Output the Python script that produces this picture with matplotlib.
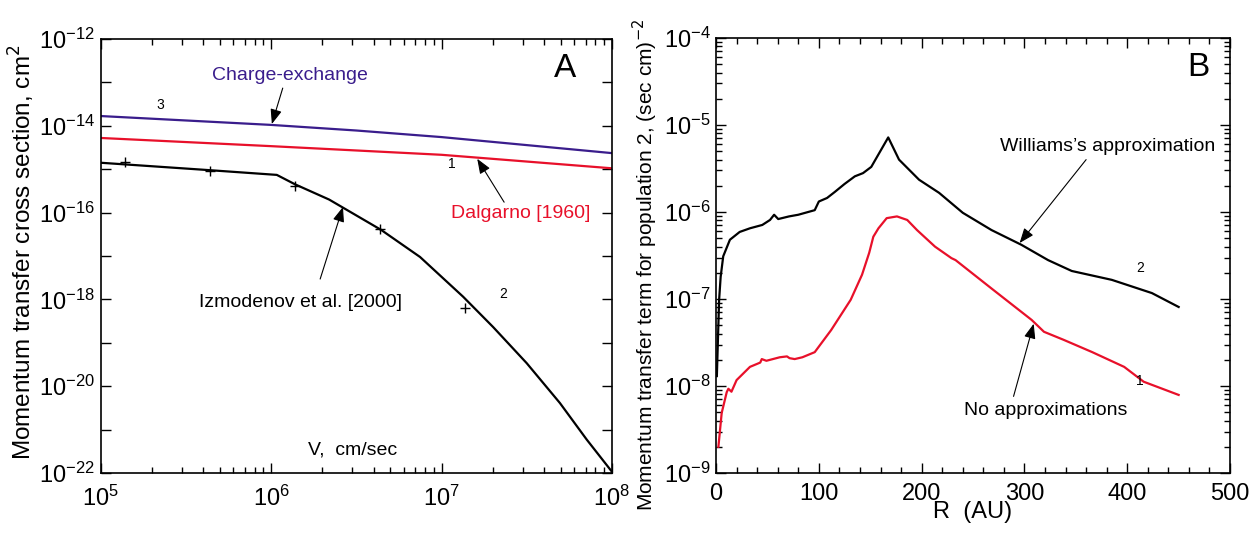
import numpy as np
import matplotlib
matplotlib.use("Agg")
import matplotlib.pyplot as plt
from matplotlib import font_manager
from matplotlib.ticker import FixedLocator, FuncFormatter, LogLocator, NullFormatter, MultipleLocator

# Panel A: momentum transfer cross sections vs velocity
v_cx = [1e5, 1e6, 3.16e6, 1e7, 1e8]
sigma_cx = [1.68e-14, 1.05e-14, 7.8e-15, 5.5e-15, 2.35e-15]
v_dalg = [1e5, 1e6, 1e7, 1e8]
sigma_dalg = [5.25e-15, 3.4e-15, 2.15e-15, 1.05e-15]
v_izm = [1e5, 4.37e5, 1.08e6, 1.38e6, 2.19e6, 4.42e6, 7.48e6, 1.34e7,
         2.01e7, 3.16e7, 4.95e7, 7.11e7, 1e8]
sigma_izm = [1.41e-15, 9.5e-16, 7.4e-16, 4.5e-16, 2.0e-16, 4.0e-17, 9.5e-18,
             1.15e-18, 2.3e-19, 3.4e-20, 4.1e-21, 5.9e-22, 1.07e-22]
v_marks = [1.38e5, 4.37e5, 1.38e6, 4.37e6, 1.38e7]
sigma_marks = [1.48e-15, 9.3e-16, 4.0e-16, 4.2e-17, 6.5e-19]

# Panel B: momentum transfer term vs heliocentric distance
r_will = [0.8, 3, 4.5, 7, 13.5, 23, 33, 45, 52.5, 56.5, 60.5, 71, 80, 96, 100,
          108, 115.5, 125, 135, 143, 151, 167.5, 178, 197.5, 217, 240, 268,
          297, 323, 346, 385, 424, 450]
term_will = [1.3e-8, 9.8e-8, 1.8e-7, 3.1e-7, 4.8e-7, 5.9e-7, 6.5e-7, 7.1e-7,
             8.1e-7, 9.3e-7, 8.3e-7, 8.9e-7, 9.3e-7, 1.05e-6, 1.32e-6, 1.45e-6,
             1.7e-6, 2.1e-6, 2.57e-6, 2.8e-6, 3.3e-6, 7.2e-6, 4.0e-6, 2.35e-6,
             1.66e-6, 9.8e-7, 6.2e-7, 4.2e-7, 2.8e-7, 2.1e-7, 1.66e-7, 1.17e-7,
             8.1e-8]
r_full = [2.3, 5.5, 10.4, 12, 15, 20, 33, 43, 44.5, 49, 62, 69, 71.5, 76.5, 84,
          96, 112, 131, 142, 149, 153, 158, 166, 176, 186, 195.5, 213, 229, 233,
          268, 307, 319, 338, 366, 397, 416, 450]
term_full = [2.0e-9, 4.9e-9, 8.5e-9, 9.3e-9, 8.6e-9, 1.17e-8, 1.66e-8, 1.86e-8,
             2.04e-8, 1.95e-8, 2.14e-8, 2.19e-8, 2.09e-8, 2.04e-8, 2.14e-8,
             2.45e-8, 4.4e-8, 9.8e-8, 1.9e-7, 3.4e-7, 5.2e-7, 6.5e-7, 8.5e-7,
             8.9e-7, 8.1e-7, 6.2e-7, 4.0e-7, 2.95e-7, 2.8e-7, 1.32e-7, 5.75e-8,
             4.2e-8, 3.4e-8, 2.45e-8, 1.66e-8, 1.12e-8, 7.9e-9]

installed = {f.name for f in font_manager.fontManager.ttflist}
narrow = "Liberation Sans Narrow" if "Liberation Sans Narrow" in installed else "Liberation Sans"
wide = "Liberation Sans"

purple = "#3a1d8c"
red = "#e8102a"

fig = plt.figure(figsize=(12.54, 5.36), dpi=100)
axA = fig.add_axes([0.0803, 0.1175, 0.4077, 0.8097])
axB = fig.add_axes([0.571, 0.1175, 0.4099, 0.8116])

arrow = dict(arrowstyle="-|>,head_length=0.9,head_width=0.35", color="black",
             lw=0.8, shrinkA=0, shrinkB=0)
note = 14

# ---- panel A ----
axA.plot(v_cx, sigma_cx, color=purple, lw=1.6)
axA.plot(v_dalg, sigma_dalg, color=red, lw=1.6)
axA.plot(v_izm, sigma_izm, color="black", lw=1.6)
axA.plot(v_marks, sigma_marks, "+", color="black", ms=7, mew=1.0)
axA.set_xscale("log")
axA.set_yscale("log")
axA.set_xlim(1e5, 1e8)
axA.set_ylim(1e-22, 1e-12)
axA.yaxis.set_major_locator(FixedLocator([10.0**k for k in range(-22, -11)]))
axA.yaxis.set_minor_locator(FixedLocator([]))
axA.yaxis.set_major_formatter(FuncFormatter(
    lambda y, p: r"$\mathdefault{10^{%d}}$" % round(np.log10(y)) if round(np.log10(y)) % 2 == 0 else ""))
axA.xaxis.set_major_locator(LogLocator(base=10, numticks=10))
axA.xaxis.set_minor_locator(LogLocator(base=10, subs=np.arange(2, 10), numticks=20))
axA.xaxis.set_minor_formatter(NullFormatter())

axA.text(1.29e6, 1.48e-13, "Charge-exchange", color=purple, fontsize=note,
         family=narrow, ha="center", va="center")
axA.annotate("", xy=(1.01e6, 1.1e-14), xytext=(1.17e6, 7.4e-14), arrowprops=arrow)
axA.text(2.93e7, 9.8e-17, "Dalgarno [1960]", color=red, fontsize=note,
         family=narrow, ha="center", va="center")
axA.annotate("", xy=(1.62e7, 1.74e-15), xytext=(2.33e7, 1.74e-16), arrowprops=arrow)
axA.text(1.48e6, 8.7e-19, "Izmodenov et al. [2000]", color="black", fontsize=note,
         family=narrow, ha="center", va="center")
axA.annotate("", xy=(2.64e6, 1.35e-16), xytext=(1.94e6, 2.95e-18), arrowprops=arrow)
axA.text(2.23e5, 3.0e-14, "3", fontsize=10, family=narrow, ha="center", va="center")
axA.text(1.15e7, 1.32e-15, "1", fontsize=10, family=narrow, ha="center", va="center")
axA.text(2.3e7, 1.33e-18, "2", fontsize=10, family=narrow, ha="center", va="center")
axA.text(0.493, 0.053, "V,  cm/sec", transform=axA.transAxes, fontsize=note,
         family=narrow, ha="center", va="center")
axA.text(0.908, 0.933, "A", transform=axA.transAxes, fontsize=24,
         family=wide, ha="center", va="center")

# ---- panel B ----
axB.plot(r_will, term_will, color="black", lw=1.6)
axB.plot(r_full, term_full, color=red, lw=1.6)
axB.set_yscale("log")
axB.set_xlim(0, 500)
axB.set_ylim(1e-9, 1e-4)
axB.xaxis.set_major_locator(MultipleLocator(100))
axB.xaxis.set_minor_locator(MultipleLocator(20))
axB.yaxis.set_major_locator(LogLocator(base=10, numticks=10))
axB.yaxis.set_minor_locator(LogLocator(base=10, subs=np.arange(2, 10), numticks=20))
axB.yaxis.set_minor_formatter(NullFormatter())

axB.text(381, 5.6e-6, "Williams\u2019s approximation", fontsize=note, family=narrow,
         ha="center", va="center")
axB.annotate("", xy=(295.3, 4.4e-7), xytext=(360, 4.0e-6), arrowprops=arrow)
axB.text(321, 5.3e-9, "No approximations", fontsize=note, family=narrow,
         ha="center", va="center")
axB.annotate("", xy=(309, 5.2e-8), xytext=(289.4, 7.6e-9), arrowprops=arrow)
axB.text(412.5, 2.3e-7, "2", fontsize=10, family=narrow, ha="center", va="center")
axB.text(412.5, 1.15e-8, "1", fontsize=10, family=narrow, ha="center", va="center")
axB.text(0.938, 0.933, "B", transform=axB.transAxes, fontsize=24,
         family=wide, ha="center", va="center")
axB.set_xlabel("R  (AU)", fontsize=17, family=wide, labelpad=-3)

for ax in (axA, axB):
    for s in ax.spines.values():
        s.set_linewidth(1.2)
    ax.tick_params(which="both", direction="in", top=True, right=True, width=1.0)
    ax.tick_params(which="major", length=7)
    ax.tick_params(which="minor", length=4)
    ax.tick_params(axis="both", labelsize=17, labelfontfamily=narrow)
axA.tick_params(axis="x", pad=9)
axA.tick_params(axis="y", pad=4)
axB.tick_params(axis="x", pad=7, labelfontfamily=wide)
axB.tick_params(axis="y", pad=4)

fig.text(0.0175, 0.53, "Momentum transfer cross section, cm$^2$", rotation=90,
         fontsize=17.5, family=wide, ha="center", va="center")
fig.text(0.5145, 0.505, "Momentum transfer term for population 2, (sec cm)$^{-2}$",
         rotation=90, fontsize=15, family=wide, ha="center", va="center")

fig.savefig("out.png", dpi=100)
